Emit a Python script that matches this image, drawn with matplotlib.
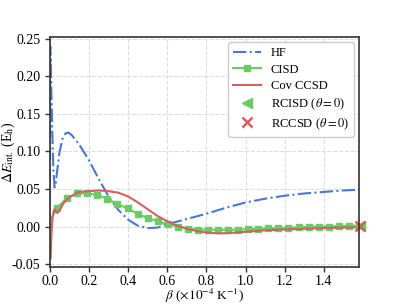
import matplotlib
matplotlib.use('Agg')
import matplotlib.pyplot as plt

plt.rcParams['font.family'] = ['Liberation Serif', 'DejaVu Serif']
plt.rcParams['mathtext.fontset'] = 'stix'
plt.rcParams['axes.unicode_minus'] = False

# HF
beta_hf = [0.0, 0.002, 0.006, 0.012, 0.018, 0.024, 0.03, 0.04, 0.05, 0.065,
           0.08, 0.095, 0.11, 0.13, 0.16, 0.2, 0.25, 0.3, 0.35, 0.4, 0.45,
           0.5, 0.55, 0.6, 0.7, 0.8, 0.9, 1.0, 1.1, 1.2, 1.3, 1.4, 1.5, 1.58]
e_hf = [0.0, 0.24, 0.20, 0.13, 0.075, 0.052, 0.058, 0.08, 0.10, 0.117,
        0.124, 0.125, 0.122, 0.116, 0.105, 0.088, 0.063, 0.040, 0.022, 0.009, 0.001,
        -0.002, -0.0015, 0.003, 0.010, 0.017, 0.025, 0.032, 0.037, 0.041, 0.044, 0.046, 0.048, 0.049]

# CISD
beta_cisd = [0.0, 0.01, 0.02, 0.037, 0.088, 0.140, 0.191, 0.243, 0.294, 0.345,
             0.397, 0.448, 0.500, 0.551, 0.602, 0.654, 0.705, 0.757, 0.808, 0.859,
             0.911, 0.962, 1.014, 1.065, 1.116, 1.168, 1.219, 1.271, 1.322, 1.373,
             1.425, 1.476, 1.528, 1.579]
e_cisd = [0.005, 0.012, 0.017, 0.025, 0.038, 0.044, 0.044, 0.042, 0.037, 0.030,
          0.024, 0.017, 0.011, 0.007, 0.003, 0.0, -0.003, -0.004, -0.004, -0.0045,
          -0.0045, -0.004, -0.0035, -0.003, -0.0025, -0.002, -0.0015, -0.001, -0.0005, 0.0,
          0.0, 0.0005, 0.001, 0.001]

# Cov CCSD
beta_cc = [0.004, 0.008, 0.013, 0.02, 0.025, 0.032, 0.038, 0.05, 0.07, 0.09,
           0.12, 0.15, 0.2, 0.25, 0.3, 0.35, 0.4, 0.45, 0.5, 0.55, 0.6, 0.65,
           0.7, 0.75, 0.8, 0.85, 0.9, 0.95, 1.0, 1.1, 1.2, 1.3, 1.4, 1.5, 1.58]
e_cc = [-0.042, -0.01, 0.01, 0.021, 0.023, 0.019, 0.018, 0.022, 0.031, 0.037,
        0.042, 0.046, 0.047, 0.048, 0.047, 0.045, 0.040, 0.032, 0.023, 0.014, 0.007, 0.001,
        -0.003, -0.006, -0.008, -0.009, -0.009, -0.008, -0.007, -0.005, -0.004, -0.003, -0.002, -0.0015, -0.001]

# theta = 0 reference points
beta_r = [1.585]
e_rcisd = [0.0005]
e_rccsd = [0.0005]

blue = '#4878d0'
green = '#6acc64'
red = '#d65f5f'

fig = plt.figure(figsize=(3.99, 3.07), dpi=100)
ax = fig.add_axes([0.125, 0.13, 0.775, 0.749])

ax.plot(beta_hf, e_hf, '-.', color=blue, lw=1.5, label='HF')
ax.plot(beta_cisd, e_cisd, '-', color=green, lw=1.5, marker='s', ms=5,
        markevery=list(range(3, len(beta_cisd))), label='CISD')
ax.plot(beta_cc, e_cc, '-', color=red, lw=1.5, label='Cov CCSD')
ax.plot(beta_r, e_rcisd, '<', color=green, ms=7, ls='none', clip_on=False,
        label=r'RCISD ($\theta=0$)')
ax.plot(beta_r, e_rccsd, 'x', color=red, ms=7, mew=1.8, ls='none', clip_on=False,
        label=r'RCCSD ($\theta=0$)')

ax.set_xlim(0, 1.58)
ax.set_ylim(-0.054, 0.252)
ax.set_xticks([0.0, 0.2, 0.4, 0.6, 0.8, 1.0, 1.2, 1.4])
ax.set_yticks([-0.05, 0.0, 0.05, 0.10, 0.15, 0.20, 0.25])
ax.set_xticklabels(['0.0', '0.2', '0.4', '0.6', '0.8', '1.0', '1.2', '1.4'])
ax.set_yticklabels(['-0.05', '0.00', '0.05', '0.10', '0.15', '0.20', '0.25'])
ax.tick_params(labelsize=10, length=3.5, width=1, color='#333333')
ax.tick_params(axis='x', pad=2.5)
ax.grid(True, ls='--', color='#dddddd', lw=0.8)
for s in ax.spines.values():
    s.set_color('#333333')
    s.set_linewidth(1.2)

ax.set_xlabel(r'$\beta$ ($\times 10^{-4}$ K$^{-1}$)', fontsize=9.5)
ax.set_ylabel(r'$\Delta E_{\rm int.}$ (E$_{\rm h}$)', fontsize=10)
ax.xaxis.set_label_coords(0.5, -0.088)
ax.yaxis.set_label_coords(-0.105, 0.5)

ax.legend(loc='upper right', fontsize=9, framealpha=1, edgecolor='#cccccc',
          handlelength=2.2, labelspacing=0.35, borderaxespad=0.4)

fig.savefig('out.png', dpi=100)
